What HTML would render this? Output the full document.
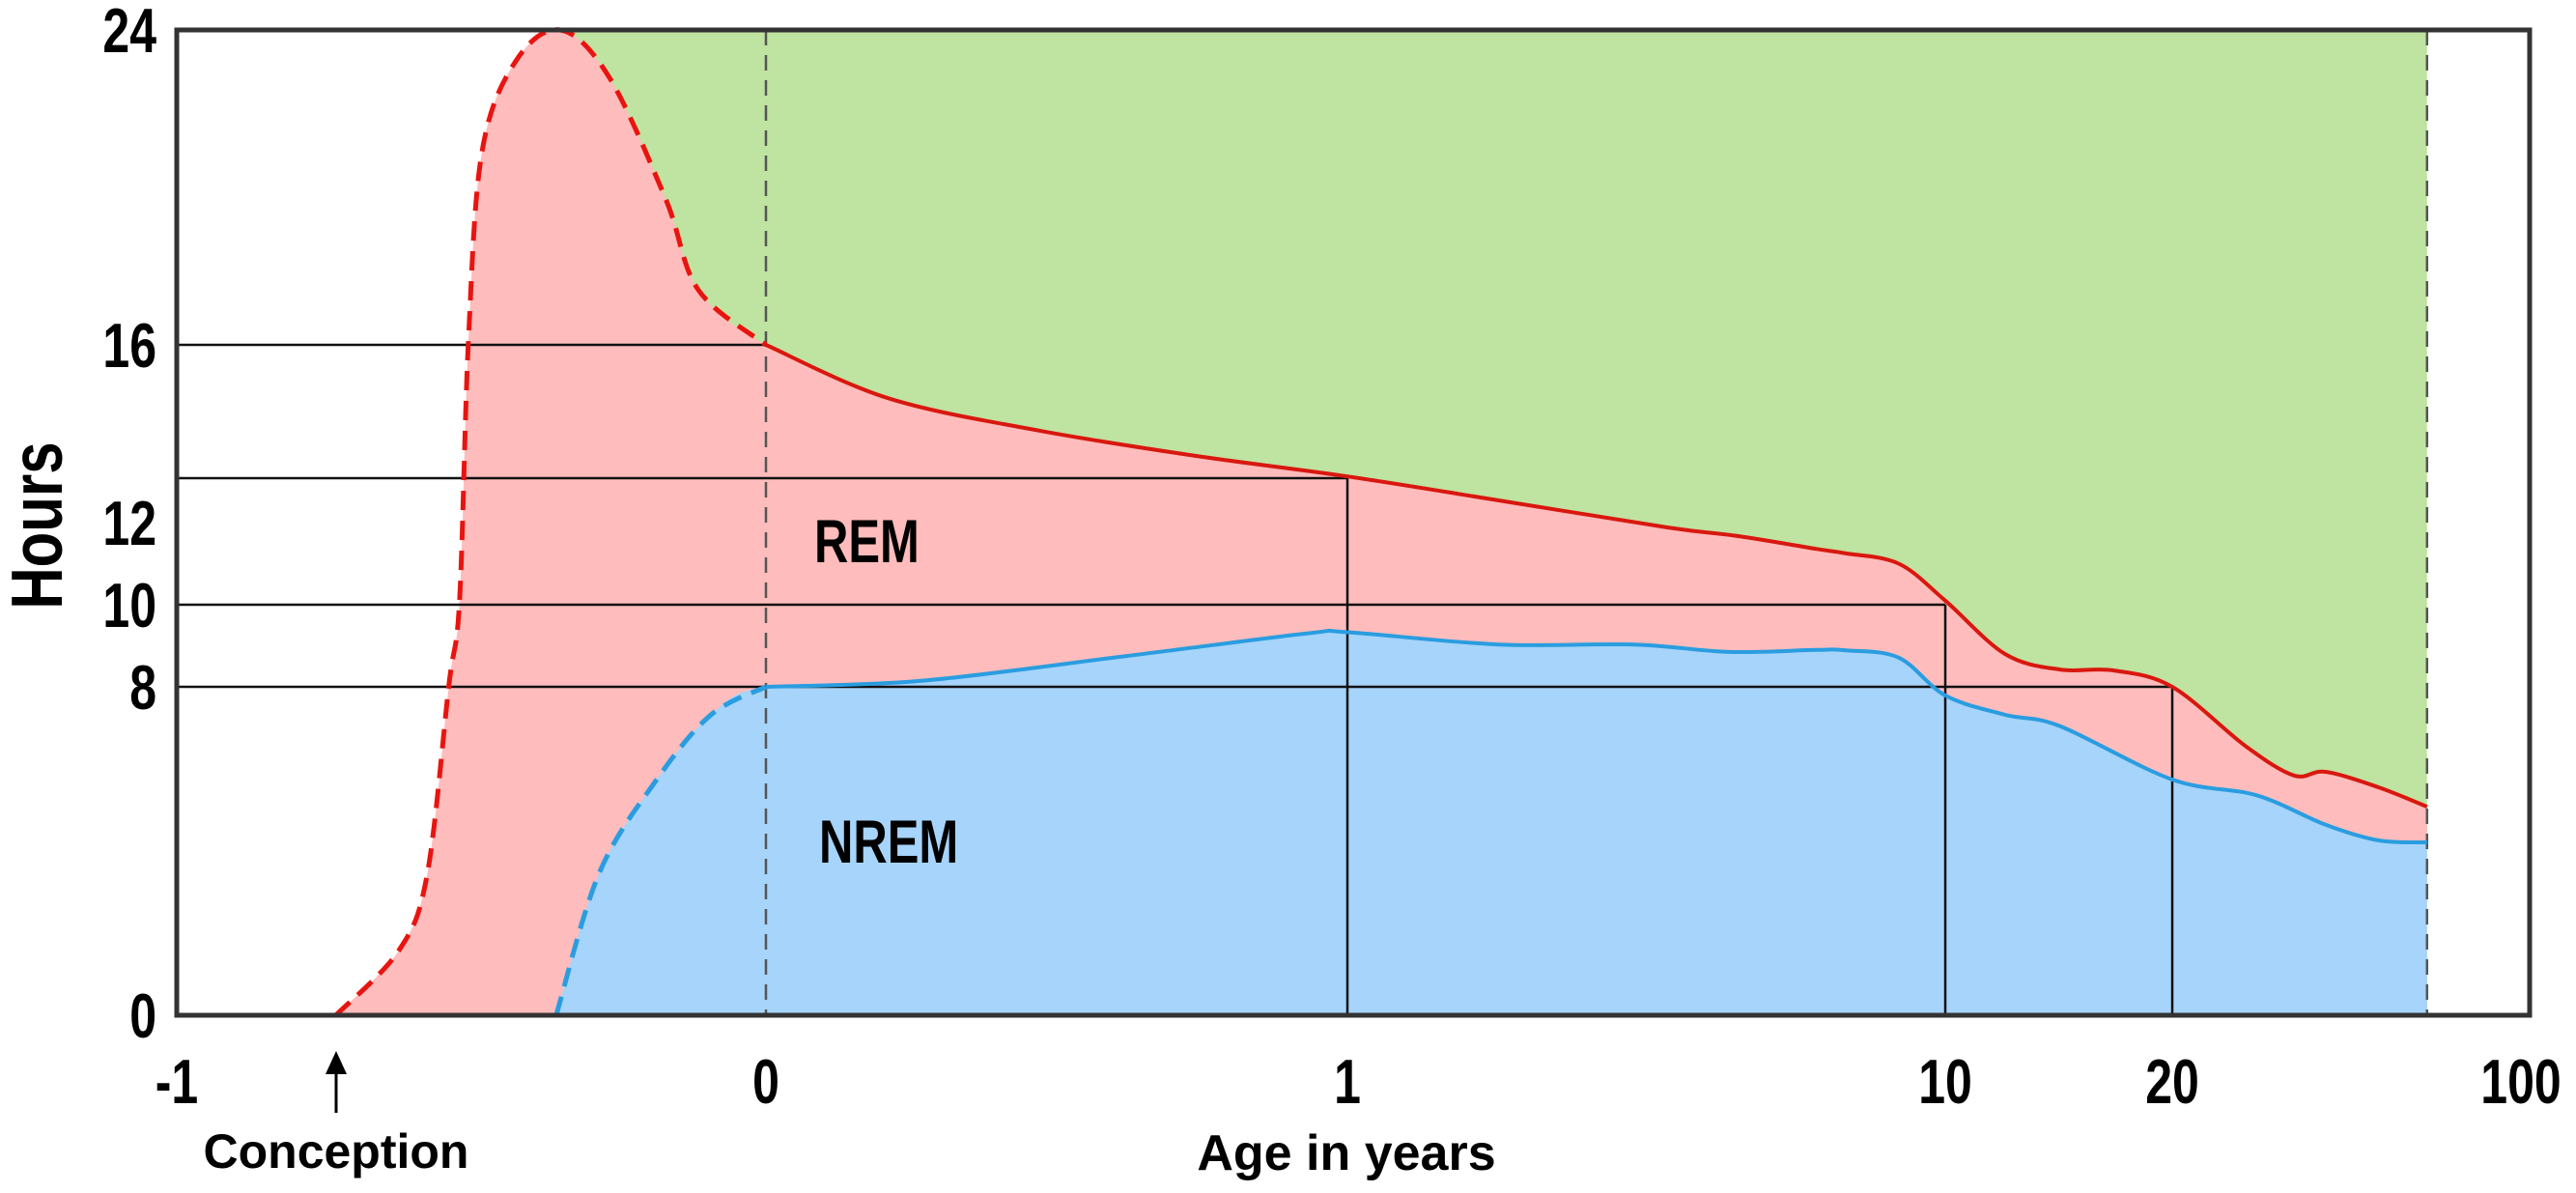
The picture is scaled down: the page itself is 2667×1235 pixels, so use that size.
<!DOCTYPE html>
<html><head><meta charset="utf-8"><style>
html,body{margin:0;padding:0;background:#fff;}
svg{display:block;}
text{font-family:"Liberation Sans",Arial,sans-serif;font-weight:bold;fill:#000;}
</style></head><body>
<svg id="chart" width="2667" height="1235" viewBox="0 0 2667 1235" xmlns="http://www.w3.org/2000/svg"></svg>
<script>
// ---- data ----
const totalAges  = [-0.730,-0.623,-0.575,-0.538,-0.520,-0.505,-0.482,-0.425,-0.349,-0.266,-0.170,-0.115,0,0.21,0.47,0.74,1,1.79,3.44,4.51,6.08,6.82,8.36,10,12,14.2,16.7,20,27.8,34.6,39.9,50.7,63];
const totalHours = [0,1.58,3.43,8.05,10.1,16.07,20.9,23.2,24,22.8,19.7,17.4,16,14.8,14.07,13.5,13.04,12.5,11.88,11.67,11.36,11.25,11.0,10.1,8.8,8.42,8.4,8.0,6.56,5.84,5.93,5.55,5.08];
const nremAges   = [-0.356,-0.284,-0.19,-0.095,0,0.27,0.62,0.93,1,1.79,3.02,4.35,6.08,6.82,8.36,10,12,14.2,20,29.2,39.9,50.7,63];
const nremHours  = [0,3.43,5.65,7.3,8,8.15,8.75,9.3,9.33,9.03,9.03,8.85,8.9,8.89,8.71,7.79,7.32,7.04,5.74,5.36,4.64,4.26,4.21];
const refAges    = [0,1,10,20];
const refHours   = [16,13,10,8];
const xTickVals  = [-1,0,1,10,20,100];
const xTickLabels= ["-1","0","1","10","20","100"];
const yTickVals  = [0,8,10,12,16,24];
const yTickLabels= ["0","8","10","12","16","24"];
const endAge = 63;

// ---- axes (piecewise) ----
const XA=[-1,0,1,10,20,100], XP=[183,793,1395,2014,2249,2619];
function xs(a){
  for(let i=0;i<XA.length-1;i++){
    if(a<=XA[i+1]||i==XA.length-2){
      const a0=XA[i],a1=XA[i+1];
      let t = (a0<=0) ? (a-a0)/(a1-a0) : Math.log(a/a0)/Math.log(a1/a0);
      return XP[i]+t*(XP[i+1]-XP[i]);
    }
  }
}
const YA=[0,8,10,12,16,24], YP=[1051,711,626,541,357,31];
function ys(h){
  for(let i=0;i<YA.length-1;i++){
    if(h<=YA[i+1]||i==YA.length-2){
      const t=(h-YA[i])/(YA[i+1]-YA[i]);
      return YP[i]+t*(YP[i+1]-YP[i]);
    }
  }
}
const NS="http://www.w3.org/2000/svg";
const svg=document.getElementById('chart');
function el(tag,attrs,parent){const e=document.createElementNS(NS,tag);for(const k in attrs)e.setAttribute(k,attrs[k]);(parent||svg).appendChild(e);return e;}
function pts(ages,hours){return ages.map((a,i)=>[xs(a),Math.min(ys(hours[i]),1051)]).map(p=>[p[0],Math.max(p[1],31)]);}
function cr(p){ // catmull-rom to bezier
  let d="M"+p[0][0].toFixed(1)+","+p[0][1].toFixed(1);
  for(let i=0;i<p.length-1;i++){
    const p0=p[i-1]||p[i],p1=p[i],p2=p[i+1],p3=p[i+2]||p2;
    const c1=[p1[0]+(p2[0]-p0[0])/6,p1[1]+(p2[1]-p0[1])/6];
    const c2=[p2[0]-(p3[0]-p1[0])/6,p2[1]-(p3[1]-p1[1])/6];
    d+=" C"+c1[0].toFixed(1)+","+c1[1].toFixed(1)+" "+c2[0].toFixed(1)+","+c2[1].toFixed(1)+" "+p2[0].toFixed(1)+","+p2[1].toFixed(1);
  }
  return d;
}
const tp=pts(totalAges,totalHours), np=pts(nremAges,nremHours);
let peakIdx=totalHours.indexOf(Math.max(...totalHours));
const xEnd=xs(endAge);

// green wake area
const g=el('rect',{x:tp[peakIdx][0],y:31,width:xEnd-tp[peakIdx][0],height:1020,fill:'#bfe3a0'});


// REM (pink) area
const pk=el('path',{d:cr(tp)+" L"+tp[tp.length-1][0]+",1051 L"+tp[0][0]+",1051 Z",fill:'#ffbcbc'});


// NREM area
const bl=el('path',{d:cr(np)+" L"+np[np.length-1][0]+",1051 L"+np[0][0]+",1051 Z",fill:'#a6d4fa'});



// dashed verticals
[[0,'birth-line'],[endAge,'end-line']].forEach(([a,n])=>{
  const l=el('line',{x1:xs(a),x2:xs(a),y1:31,y2:1051,stroke:'#555','stroke-width':2.5,'stroke-dasharray':'16,10'});
  
  
});
// reference lines
refAges.forEach((a,i)=>{
  const x=xs(a), y=ys(refHours[i]);
  const h=el('line',{x1:183,x2:x,y1:y,y2:y,stroke:'#111','stroke-width':2.5});
  
  
  if(a>0){
    const v=el('line',{x1:x,x2:x,y1:y,y2:1051,stroke:'#111','stroke-width':2.5});
    
    
  }
});
// curves: dashed prenatal, solid postnatal
function split(p,ages){const pre=[],post=[];ages.forEach((a,i)=>{if(a<=0)pre.push(p[i]);if(a>=0)post.push(p[i]);});return [pre,post];}
const [tpre,tpost]=split(tp,totalAges),[npre,npost]=split(np,nremAges);
let c;
c=el('path',{d:cr(tpre),fill:'none',stroke:'#e8140f','stroke-width':5,'stroke-dasharray':'20,11'});


c=el('path',{d:cr(tpost),fill:'none',stroke:'#d8180f','stroke-width':4});


c=el('path',{d:cr(npre),fill:'none',stroke:'#2a9de0','stroke-width':5,'stroke-dasharray':'20,11'});


c=el('path',{d:cr(npost),fill:'none',stroke:'#2a9de0','stroke-width':4});



// frame
const fr=el('rect',{x:183,y:31,width:2436,height:1020,fill:'none',stroke:'#333','stroke-width':5});



// y ticks
yTickVals.forEach((v,i)=>{
  const y=ys(v);
  const t=el('text',{x:0,y:0,'font-size':50,'text-anchor':'end',transform:`translate(162,${y+23}) scale(1,1.3)`});
  t.textContent=yTickLabels[i];
  
  
});
// x ticks
xTickVals.forEach((v,i)=>{
  const x=xs(v)-(v==100?9:0);
  const t=el('text',{x:0,y:0,'font-size':50,'text-anchor':'middle',transform:`translate(${x},1142) scale(1,1.3)`});
  t.textContent=xTickLabels[i];
  
  
});
// labels
function label(txt,attrs,name){const t=el('text',attrs);t.textContent=txt;return t;}
label('Hours',{x:0,y:0,'font-size':60,'text-anchor':'middle',transform:'translate(64,544) rotate(-90) scale(1,1.25)'},'y-axis-title');
label('Age in years',{x:1394,y:1211,'font-size':52,'text-anchor':'middle'},'x-axis-title');
label('Conception',{x:348,y:1209,'font-size':50,'text-anchor':'middle'},'conception-label');
label('REM',{x:0,y:0,'font-size':49,transform:'translate(843,582) scale(1,1.28)'},'rem-label');
label('NREM',{x:0,y:0,'font-size':49,transform:'translate(848,893) scale(1,1.28)'},'nrem-label');
// conception arrow
const ar=el('line',{x1:348,x2:348,y1:1108,y2:1152,stroke:'#000','stroke-width':3});


const ah=el('polygon',{points:'348,1088 337,1112 359,1112',fill:'#000'});


</script>
</body></html>
